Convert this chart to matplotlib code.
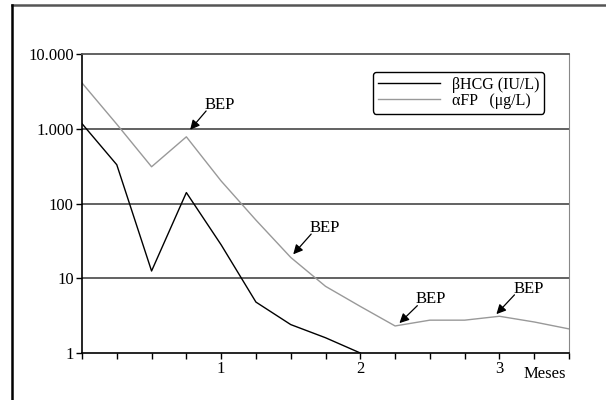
import numpy as np
import matplotlib
matplotlib.use("Agg")
import matplotlib.pyplot as plt
from matplotlib.lines import Line2D

plt.rcParams['font.family'] = ['Liberation Serif', 'DejaVu Serif']

# months after start, one sample every quarter month
months_hcg = [0, 0.25, 0.5, 0.75, 1.0, 1.25, 1.5, 1.75, 2.0]
hcg = [1170, 330, 12.5, 140, 28, 4.8, 2.4, 1.6, 1.0]

months_afp = [0, 0.25, 0.5, 0.75, 1.0, 1.25, 1.5, 1.75, 2.0, 2.25, 2.5, 2.75, 3.0, 3.25, 3.5]
afp = [4100, 1150, 310, 780, 200, 60, 19, 7.8, 4.2, 2.3, 2.75, 2.75, 3.1, 2.6, 2.1]

ytick_vals = [1, 10, 100, 1000, 10000]
ytick_labels = ['1', '10', '100', '1.000', '10.000']
xtick_vals = np.arange(0, 3.51, 0.25)
xtick_labels = ['1' if v == 1 else '2' if v == 2 else '3' if v == 3 else '' for v in xtick_vals]

fig = plt.figure(figsize=(6.06, 4.0), dpi=100)
ax = fig.add_axes([0.1353, 0.1175, 0.8037, 0.7475])

ax.plot(months_hcg, hcg, color='black', lw=1.0, label='\u03b2HCG (IU/L)')
ax.plot(months_afp, afp, color='#999999', lw=1.0, label='\u03b1FP   (\u03bcg/L)')

ax.set_yscale('log')
ax.set_ylim(1, 10000)
ax.set_xlim(0, 3.5)
ax.set_yticks(ytick_vals)
ax.set_yticklabels(ytick_labels)
ax.yaxis.set_minor_locator(matplotlib.ticker.NullLocator())
ax.set_xticks(xtick_vals)
ax.set_xticklabels(xtick_labels)
ax.tick_params(labelsize=12, length=4, width=1, direction='out', pad=2)

for v in ytick_vals[1:4]:
    ax.axhline(v, color='#555555', lw=1.3, zorder=0)

ax.spines['top'].set_color('#555555')
ax.spines['top'].set_linewidth(1.3)
ax.spines['right'].set_color('#888888')
ax.spines['left'].set_linewidth(1.2)
ax.spines['bottom'].set_linewidth(1.2)

ax.text(0.994, -0.045, 'Meses', transform=ax.transAxes, ha='right', va='top', fontsize=12)

# BEP cycles: arrow tip on the curve, tail at the lower left of the label
arrow = dict(arrowstyle='-|>', color='black', lw=0.9, mutation_scale=14, shrinkA=0, shrinkB=0)
bep = [((0.777, 970), (0.892, 1730)),
       ((1.518, 20.9), (1.647, 39)),
       ((2.281, 2.51), (2.410, 4.3)),
       ((2.978, 3.31), (3.108, 6.0))]
for tip, tail in bep:
    ax.annotate('', xy=tip, xytext=tail, arrowprops=arrow)
    ax.text(tail[0] - 0.01, tail[1] * 1.07, 'BEP', ha='left', va='baseline', fontsize=12)

leg = ax.legend(loc='upper left', bbox_to_anchor=(0.598, 0.94), fontsize=11.5,
                handlelength=3.9, labelspacing=0.0, borderpad=0.3, handletextpad=0.7,
                borderaxespad=0, frameon=True, fancybox=True, edgecolor='black',
                framealpha=1)
leg.get_frame().set_linewidth(1.0)

# outer frame (top and left edges)
fig.add_artist(Line2D([12 / 606, 1], [1 - 5 / 400, 1 - 5 / 400], transform=fig.transFigure,
                      color='#555555', lw=1.8))
fig.add_artist(Line2D([12 / 606, 12 / 606], [0, 1 - 5 / 400], transform=fig.transFigure,
                      color='black', lw=1.8))

fig.savefig('out.png', dpi=100)
